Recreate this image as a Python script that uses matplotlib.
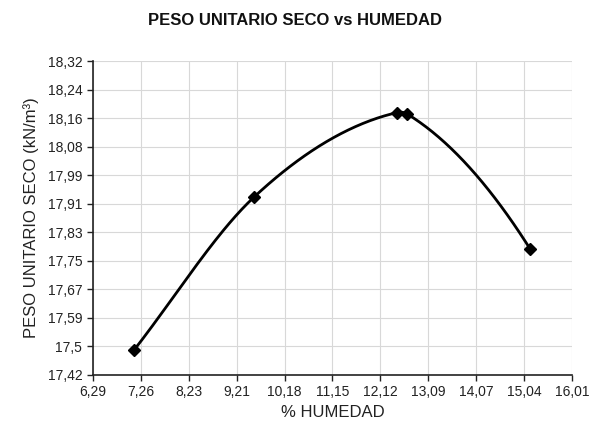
import numpy as np
import matplotlib.pyplot as plt

plt.rcParams['font.family'] = ['Liberation Sans', 'DejaVu Sans']

# datos
humedad = [7.13, 9.56, 12.45, 12.67, 15.16]
peso_seco = [17.492, 17.930, 18.172, 18.168, 17.781]

x_ticks = ['6,29', '7,26', '8,23', '9,21', '10,18', '11,15', '12,12',
           '13,09', '14,07', '15,04', '16,01']
y_ticks = ['17,42', '17,5', '17,59', '17,67', '17,75', '17,83', '17,91',
           '17,99', '18,08', '18,16', '18,24', '18,32']


def smooth_line(x, y, n=60):
    # linea suavizada: hermite cubico con pendiente media de los tramos vecinos
    x = np.asarray(x, dtype=float)
    y = np.asarray(y, dtype=float)
    h = np.diff(x)
    s = np.diff(y) / h
    m = np.zeros(len(x))
    for i in range(1, len(x) - 1):
        m[i] = (s[i - 1] + s[i]) / 2
    m[0] = s[0]
    m[-1] = 2 * s[-1] - m[-2]
    px, py = [], []
    t = np.linspace(0, 1, n)
    for i in range(len(x) - 1):
        h00 = 2 * t ** 3 - 3 * t ** 2 + 1
        h10 = t ** 3 - 2 * t ** 2 + t
        h01 = -2 * t ** 3 + 3 * t ** 2
        h11 = t ** 3 - t ** 2
        px.append(x[i] + t * h[i])
        py.append(h00 * y[i] + h10 * h[i] * m[i] + h01 * y[i + 1] + h11 * h[i] * m[i + 1])
    return np.concatenate(px), np.concatenate(py)


fig = plt.figure(figsize=(5.91, 4.30), dpi=100)
ax = fig.add_axes([0.157, 0.128, 0.811, 0.730])

xs, ys = smooth_line(humedad, peso_seco)
ax.plot(xs, ys, color='black', lw=2)
ax.plot(humedad, peso_seco, 'D', color='black', ms=6)

xt = np.linspace(6.29, 16.01, len(x_ticks))
yt = np.linspace(17.42, 18.32, len(y_ticks))
ax.set_xticks(xt)
ax.set_xticklabels(x_ticks)
ax.set_yticks(yt)
ax.set_yticklabels(y_ticks)
ax.set_xlim(6.29, 16.01)
ax.set_ylim(17.42, 18.32)
ax.tick_params(labelsize=10, length=4, width=1, colors='#222222')

ax.grid(True, color='#d8d8d8', lw=0.8)
for s in ['top', 'right']:
    ax.spines[s].set_visible(False)
for s in ['left', 'bottom']:
    ax.spines[s].set_color('#222222')
    ax.spines[s].set_linewidth(1.2)

ax.set_xlabel('% HUMEDAD', fontsize=12, color='#222222')
ax.set_ylabel('PESO UNITARIO SECO (kN/m³)', fontsize=12, color='#222222', labelpad=6)
fig.suptitle('PESO UNITARIO SECO vs HUMEDAD', fontsize=12, fontweight='bold',
             x=0.50, y=0.97, color='#111111')

fig.savefig('out.png', dpi=100)
